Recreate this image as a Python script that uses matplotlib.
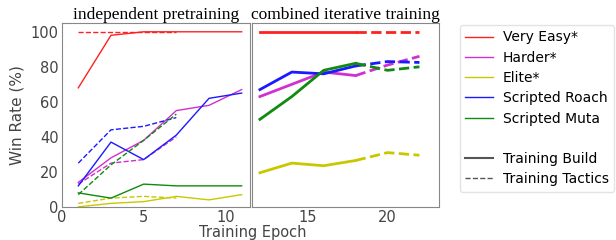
import matplotlib
matplotlib.use('Agg')
from matplotlib import pyplot as plt
from matplotlib.lines import Line2D

# independent pretraining
pre_build_x = [1, 3, 5, 7, 9, 11]
pre_tactics_x = [1, 3, 5, 7]
very_easy_build = [68, 98, 100, 100, 100, 100]
very_easy_tactics = [100, 100, 100, 100]
harder_build = [14, 28, 38, 55, 58, 67]
harder_tactics = [13, 25, 27, 40]
elite_build = [0, 2, 3, 6, 4, 7]
elite_tactics = [2, 5, 6, 5]
roach_build = [12, 37, 27, 41, 62, 65]
roach_tactics = [25, 44, 46, 51]
muta_build = [8, 5, 13, 12, 12, 12]
muta_tactics = [7, 24, 38, 53]

# combined iterative training
comb_build_x = [12, 14, 16, 18]
comb_tactics_x = [18, 20, 22]
very_easy_comb_build = [100, 100, 100, 100]
very_easy_comb_tactics = [100, 100, 100]
harder_comb_build = [63, 70, 77, 75]
harder_comb_tactics = [75, 81, 86]
elite_comb_build = [19.5, 25, 23.5, 26.5]
elite_comb_tactics = [26.5, 31, 29.5]
roach_comb_build = [67, 77, 76, 80.5]
roach_comb_tactics = [80.5, 83, 82.5]
muta_comb_build = [50, 63, 78, 82]
muta_comb_tactics = [82, 78, 80]

names = ['Very Easy*', 'Harder*', 'Elite*', 'Scripted Roach', 'Scripted Muta']
colors = ['#ff2020', '#d030d0', '#c8c800', '#1a1aff', '#108a10']

pre_build = [very_easy_build, harder_build, elite_build, roach_build, muta_build]
pre_tactics = [very_easy_tactics, harder_tactics, elite_tactics, roach_tactics, muta_tactics]
comb_build = [very_easy_comb_build, harder_comb_build, elite_comb_build, roach_comb_build, muta_comb_build]
comb_tactics = [very_easy_comb_tactics, harder_comb_tactics, elite_comb_tactics, roach_comb_tactics, muta_comb_tactics]


def main():
    fig = plt.figure(figsize=(6.16, 2.4), dpi=100)
    ax1 = fig.add_axes([0.1006, 0.138, 0.305, 0.766])
    ax2 = fig.add_axes([0.409, 0.138, 0.303, 0.766])

    for i in range(5):
        ax1.plot(pre_build_x, pre_build[i], color=colors[i], lw=1)
        ax1.plot(pre_tactics_x, pre_tactics[i], color=colors[i], lw=1, ls='--')
        ax2.plot(comb_build_x, comb_build[i], color=colors[i], lw=2)
        ax2.plot(comb_tactics_x, comb_tactics[i], color=colors[i], lw=2, ls='--')

    for ax in (ax1, ax2):
        ax.set_ylim(0, 105)
        for s in ax.spines.values():
            s.set_color('#888888')
        ax.tick_params(colors='#444444', labelsize=10.5, length=0, pad=2.5)
    ax1.set_xlim(0, 11.5)
    ax1.set_xticks([0, 5, 10])
    ax1.set_yticks([0, 20, 40, 60, 80, 100])
    ax2.set_xlim(11.5, 23.2)
    ax2.set_xticks([15, 20])
    ax2.set_yticks([])

    ax1.set_ylabel('Win Rate (%)', fontsize=11, color='#444444')
    fig.text(0.41, 0.0, 'Training Epoch', ha='center', va='bottom', fontsize=10.5, color='#444444')
    ax1.set_title('independent pretraining', fontfamily='Liberation Serif', fontsize=12.5, pad=2)
    ax2.set_title('combined iterative training', fontfamily='Liberation Serif', fontsize=12.5, pad=2)

    handles = [Line2D([], [], color=c, lw=1) for c in colors]
    handles.append(Line2D([], [], color='none'))
    handles.append(Line2D([], [], color='#555555', lw=1.5))
    handles.append(Line2D([], [], color='#555555', lw=1, ls='--'))
    labels = names + ['', 'Training Build', 'Training Tactics']
    fig.legend(handles, labels, loc='upper left', bbox_to_anchor=(0.735, 0.925),
               fontsize=10, frameon=True, edgecolor='#dddddd', handlelength=2.0,
               handletextpad=0.7, labelspacing=0.45, borderpad=0.4)

    fig.savefig('out.png', dpi=100)


if __name__ == '__main__':
    main()
